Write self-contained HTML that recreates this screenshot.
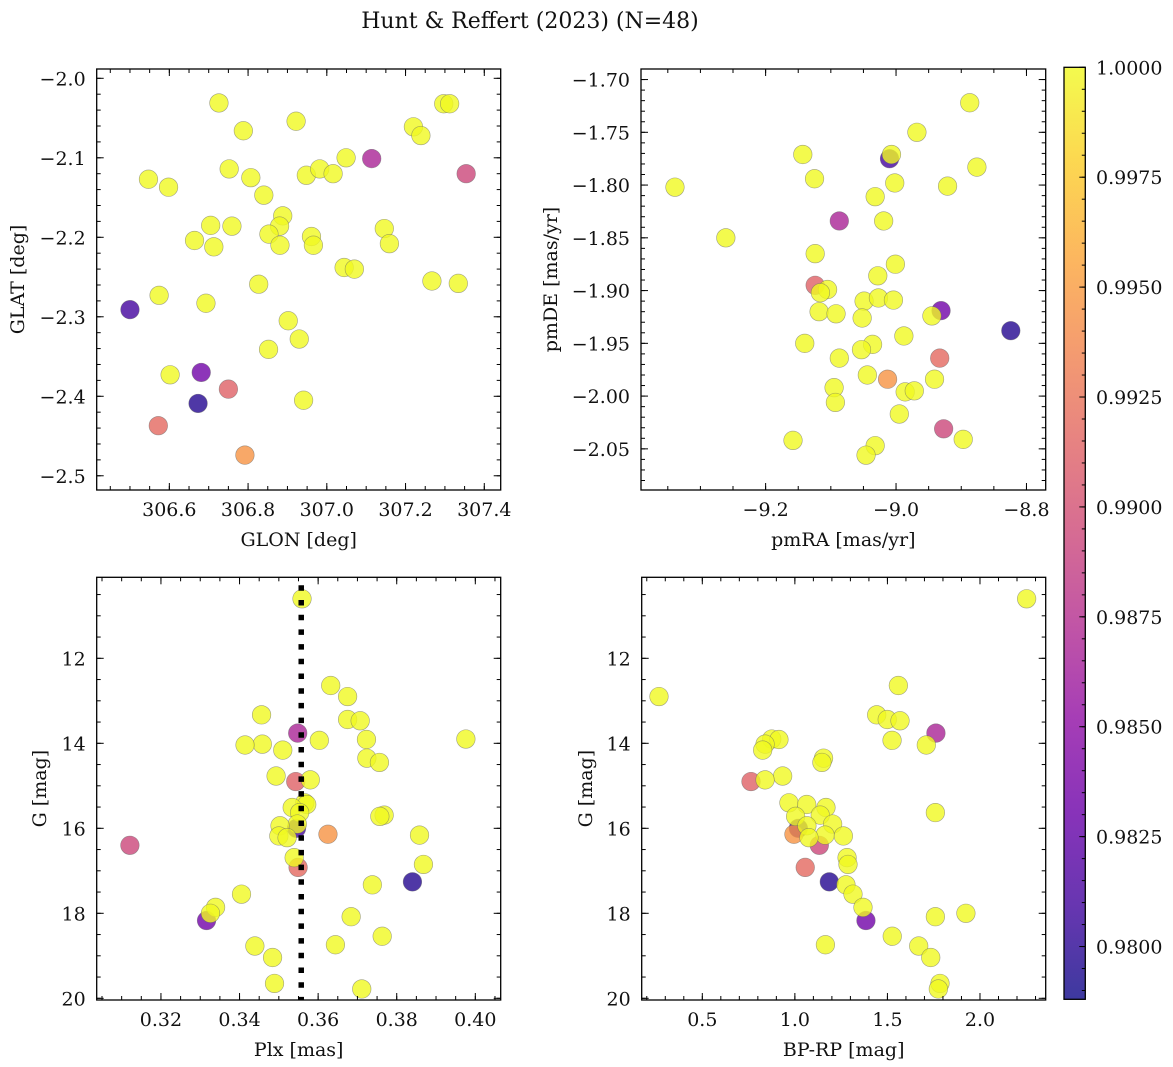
<!DOCTYPE html>
<html><head><meta charset="utf-8">
<style>
html,body{margin:0;padding:0;background:#fff;}
svg{display:block;font-family:"DejaVu Serif","Liberation Serif",serif;}
</style></head>
<body>
<svg id="fig" width="1173" height="1067" viewBox="0 0 1173 1067" xmlns="http://www.w3.org/2000/svg">
<defs>
<linearGradient id="plasmaGrad" x1="0" y1="1" x2="0" y2="0">
<stop offset="0" stop-color="#0d0887"/><stop offset="0.1" stop-color="#41049d"/><stop offset="0.2" stop-color="#6a00a8"/><stop offset="0.3" stop-color="#8f0da4"/><stop offset="0.4" stop-color="#b12a90"/><stop offset="0.5" stop-color="#cc4778"/><stop offset="0.6" stop-color="#e16462"/><stop offset="0.7" stop-color="#f2844b"/><stop offset="0.8" stop-color="#fca636"/><stop offset="0.9" stop-color="#fcce25"/><stop offset="1" stop-color="#f0f921"/>
</linearGradient>
</defs>
<text x="530" y="28" font-size="22" text-anchor="middle" fill="#111">Hunt &amp; Reffert (2023) (N=48)</text>
</svg>
<script>
const prob = [0.9797,0.9810,0.9834,0.9868,0.9893,0.9912,0.9918,0.9945].concat(new Array(40).fill(1.0));
const glon = [306.673,306.500,306.681,307.114,307.354,306.750,306.572,306.792,
306.726,306.788,306.922,307.297,307.312,307.220,307.239,307.049,306.547,306.598,306.752,306.807,306.948,306.982,307.016,306.840,306.888,306.880,306.705,306.759,306.853,306.881,306.664,306.713,306.961,306.966,307.146,307.159,307.044,307.070,307.267,307.334,306.827,306.574,306.693,306.902,306.930,306.852,306.602,306.941];
const glat = [-2.409,-2.291,-2.370,-2.101,-2.120,-2.391,-2.437,-2.474,
-2.031,-2.066,-2.054,-2.032,-2.032,-2.061,-2.072,-2.100,-2.127,-2.137,-2.114,-2.125,-2.122,-2.114,-2.120,-2.147,-2.173,-2.186,-2.185,-2.186,-2.196,-2.210,-2.204,-2.212,-2.199,-2.210,-2.189,-2.208,-2.238,-2.240,-2.255,-2.258,-2.259,-2.273,-2.283,-2.305,-2.328,-2.341,-2.373,-2.405];
const pmra = [-8.824,-9.010,-8.931,-9.087,-8.927,-9.124,-8.933,-9.013,
-8.887,-8.968,-9.143,-9.007,-8.876,-9.125,-9.339,-9.002,-8.921,-9.032,-9.019,-9.261,-9.124,-9.001,-9.028,-9.105,-9.116,-9.049,-9.027,-9.004,-9.118,-9.092,-8.945,-9.052,-9.140,-9.036,-8.988,-9.053,-9.087,-9.044,-8.941,-9.095,-8.986,-8.972,-9.093,-8.995,-9.158,-8.897,-9.032,-9.046];
const pmde = [-1.938,-1.775,-1.919,-1.834,-2.031,-1.895,-1.964,-1.984,
-1.722,-1.750,-1.771,-1.771,-1.783,-1.794,-1.802,-1.798,-1.801,-1.811,-1.834,-1.850,-1.865,-1.875,-1.886,-1.899,-1.902,-1.910,-1.907,-1.909,-1.920,-1.922,-1.924,-1.926,-1.950,-1.951,-1.943,-1.956,-1.964,-1.980,-1.984,-1.992,-1.996,-1.995,-2.006,-2.017,-2.042,-2.041,-2.047,-2.056];
const plx = [0.3840,0.3545,0.3316,0.3548,0.3121,0.3543,0.3549,0.3625,
0.3559,0.3632,0.3675,0.3456,0.3675,0.3707,0.3976,0.3723,0.3603,0.3458,0.3414,0.3510,0.3724,0.3756,0.3493,0.3580,0.3566,0.3571,0.3534,0.3553,0.3768,0.3757,0.3547,0.3503,0.3858,0.3500,0.3521,0.3539,0.3868,0.3738,0.3405,0.3339,0.3326,0.3684,0.3763,0.3644,0.3439,0.3484,0.3489,0.3711];
const bprp = [1.186,1.019,1.384,1.762,1.132,0.763,1.056,0.995,
2.252,1.559,0.266,1.442,1.499,1.568,0.875,0.914,1.525,0.839,1.710,0.826,1.155,1.146,0.934,0.839,0.968,1.064,1.168,1.759,1.137,1.004,1.204,1.065,1.163,1.262,1.076,1.282,1.287,1.276,1.314,1.368,1.924,1.759,1.526,1.165,1.669,1.734,1.784,1.775];
const gmag = [17.26,16.00,18.17,13.76,16.40,14.90,16.92,16.14,
10.60,12.64,12.90,13.33,13.44,13.47,13.90,13.91,13.93,14.02,14.04,14.16,14.35,14.45,14.77,14.86,15.40,15.44,15.51,15.63,15.69,15.72,15.90,15.94,16.16,16.18,16.22,16.69,16.85,17.33,17.55,17.86,18.00,18.08,18.54,18.74,18.77,19.04,19.65,19.78];
const plxMean = [0.3557];
const ticksGlon = [306.6,306.8,307.0,307.2,307.4];
const ticksGlat = [-2.0,-2.1,-2.2,-2.3,-2.4,-2.5];
const ticksPmra = [-9.2,-9.0,-8.8];
const ticksPmde = [-1.70,-1.75,-1.80,-1.85,-1.90,-1.95,-2.00,-2.05];
const ticksPlx = [0.32,0.34,0.36,0.38,0.40];
const ticksBprp = [0.5,1.0,1.5,2.0];
const ticksG = [12,14,16,18,20];
const ticksCbar = [0.9800,0.9825,0.9850,0.9875,0.9900,0.9925,0.9950,0.9975,1.0000];

const NS='http://www.w3.org/2000/svg';
const svg=document.getElementById('fig');
function mk(tag,attrs,parent){const e=document.createElementNS(NS,tag);for(const k in attrs)e.setAttribute(k,attrs[k]);(parent||svg).appendChild(e);return e;}
const stops=[[13,8,135],[65,4,157],[106,0,168],[143,13,164],[177,42,144],[204,71,120],[225,100,98],[242,132,75],[252,166,54],[252,206,37],[240,249,33]];
const vmin=0.9788,vmax=1.0;
function plasma(v){let t=(v-vmin)/(vmax-vmin);t=Math.max(0,Math.min(1,t))*10;const i=Math.min(9,Math.floor(t)),f=t-i;const a=stops[i],b=stops[i+1];return 'rgb('+a.map((c,k)=>Math.round(c+(b[k]-c)*f)).join(',')+')';}
function fmt(v,d){return v.toFixed(d).replace('-','\u2212');}
const FS=19;

function panel(cfg){
  const g=mk('g',{});
  
  
  const {x0,x1,y0,y1}=cfg.box;
  const sx=v=>x0+(v-cfg.xd[0])/(cfg.xd[1]-cfg.xd[0])*(x1-x0);
  const sy=v=>y0+(v-cfg.yd[0])/(cfg.yd[1]-cfg.yd[0])*(y1-y0);
  const pts=mk('g',{},g);
  
  
  for(let i=0;i<cfg.xs.length;i++){
    const c=mk('circle',{cx:sx(cfg.xs[i]).toFixed(2),cy:sy(cfg.ys[i]).toFixed(2),r:9.3,fill:plasma(prob[i]),'fill-opacity':0.8,stroke:'#666','stroke-opacity':0.6,'stroke-width':0.6},pts);
    
    
  }
  if(cfg.vline){
    const l=mk('line',{x1:sx(cfg.vline[0]),x2:sx(cfg.vline[0]),y1:y0+8,y2:y1,stroke:'#000','stroke-width':5.5,'stroke-dasharray':'5.5 9.2'},g);
    
    
  }
  const tk=mk('g',{stroke:'#000','stroke-width':1},g);
  function xt(v,len){const x=sx(v);if(x<x0-0.5||x>x1+0.5)return;mk('line',{x1:x,x2:x,y1:y1,y2:y1-len},tk);mk('line',{x1:x,x2:x,y1:y0,y2:y0+len},tk);}
  function yt(v,len){const y=sy(v);if(y<Math.min(y0,y1)-0.5||y>Math.max(y0,y1)+0.5)return;mk('line',{x1:x0,x2:x0+len,y1:y,y2:y},tk);mk('line',{x1:x1,x2:x1-len,y1:y,y2:y},tk);}
  const [a,b]=[Math.min(...cfg.xd),Math.max(...cfg.xd)];
  for(let v=Math.ceil(a/cfg.xminor)*cfg.xminor;v<=b;v+=cfg.xminor)xt(v,4);
  const [c,d]=[Math.min(...cfg.yd),Math.max(...cfg.yd)];
  for(let v=Math.ceil(c/cfg.yminor)*cfg.yminor;v<=d;v+=cfg.yminor)yt(v,4);
  cfg.xticks.forEach(v=>xt(v,7));
  cfg.yticks.forEach(v=>yt(v,7));
  cfg.xticks.forEach(v=>{const x=sx(v);if(x<x0-1||x>x1+1)return;const t=mk('text',{x:x,y:y1+26,'font-size':FS,'text-anchor':'middle',fill:'#111'},g);t.textContent=fmt(v,cfg.xdec);});
  cfg.yticks.forEach(v=>{const y=sy(v);const t=mk('text',{x:x0-11,y:y+7,'font-size':FS,'text-anchor':'end',fill:'#111'},g);t.textContent=fmt(v,cfg.ydec);});
  const xl=mk('text',{x:(x0+x1)/2,y:y1+56,'font-size':FS,'text-anchor':'middle',fill:'#111'},g);xl.textContent=cfg.xlabel;
  
  
  const yc=(y0+y1)/2;
  const yl=mk('text',{x:cfg.ylx,y:yc,'font-size':FS,'text-anchor':'middle',fill:'#111',transform:'rotate(-90 '+cfg.ylx+' '+yc+')'},g);yl.textContent=cfg.ylabel;
  
  
  const fr=mk('rect',{x:x0,y:Math.min(y0,y1),width:x1-x0,height:Math.abs(y1-y0),fill:'none',stroke:'#000','stroke-width':1.3},g);
  
  
}
panel({name:'glon-glat-panel',box:{x0:96.7,x1:500.7,y0:69,y1:490},xd:[306.4155,307.4417],yd:[-1.9883,-2.5179],xs:glon,ys:glat,xticks:ticksGlon,yticks:ticksGlat,xminor:0.05,yminor:0.02,xdec:1,ydec:1,xlabel:'GLON [deg]',ylabel:'GLAT [deg]',ylx:24});
panel({name:'proper-motion-panel',box:{x0:641,x1:1045.7,y0:69,y1:490},xd:[-9.3911,-8.7705],yd:[-1.690,-2.089],xs:pmra,ys:pmde,xticks:ticksPmra,yticks:ticksPmde,xminor:0.05,yminor:0.01,xdec:1,ydec:2,xlabel:'pmRA [mas/yr]',ylabel:'pmDE [mas/yr]',ylx:557});
panel({name:'parallax-mag-panel',box:{x0:96.7,x1:500.7,y0:577.3,y1:1000},xd:[0.30365,0.40646],yd:[10.094,20.04],xs:plx,ys:gmag,xticks:ticksPlx,yticks:ticksG,xminor:0.005,yminor:0.5,xdec:2,ydec:0,xlabel:'Plx [mas]',ylabel:'G [mag]',ylx:46,vline:plxMean});
panel({name:'cmd-panel',box:{x0:641.7,x1:1045.7,y0:577.3,y1:1000},xd:[0.1726,2.355],yd:[10.094,20.04],xs:bprp,ys:gmag,xticks:ticksBprp,yticks:ticksG,xminor:0.1,yminor:0.5,xdec:1,ydec:0,xlabel:'BP-RP [mag]',ylabel:'G [mag]',ylx:592});

(function(){
  const g=mk('g',{});
  
  
  const X0=1064,X1=1085.3,Y0=67.3,Y1=999.3;
  const sy=v=>Y0+(vmax-v)/(vmax-vmin)*(Y1-Y0);
  mk('rect',{x:X0,y:Y0,width:X1-X0,height:Y1-Y0,fill:'url(#plasmaGrad)','fill-opacity':0.8},g);
  const tk=mk('g',{stroke:'#000','stroke-width':1},g);
  for(let v=0.979;v<=1.00001;v+=0.0005){const y=sy(v);if(y>Y1)continue;mk('line',{x1:X1,x2:X1-3.5,y1:y,y2:y},tk);}
  ticksCbar.forEach(v=>{const y=sy(v);mk('line',{x1:X1,x2:X1-6,y1:y,y2:y},tk);
    const t=mk('text',{x:1096,y:y+7,'font-size':FS,fill:'#111'},g);t.textContent=v.toFixed(4);
    
    });
  mk('rect',{x:X0,y:Y0,width:X1-X0,height:Y1-Y0,fill:'none',stroke:'#000','stroke-width':1.3},g);
})();
</script>
</body></html>
